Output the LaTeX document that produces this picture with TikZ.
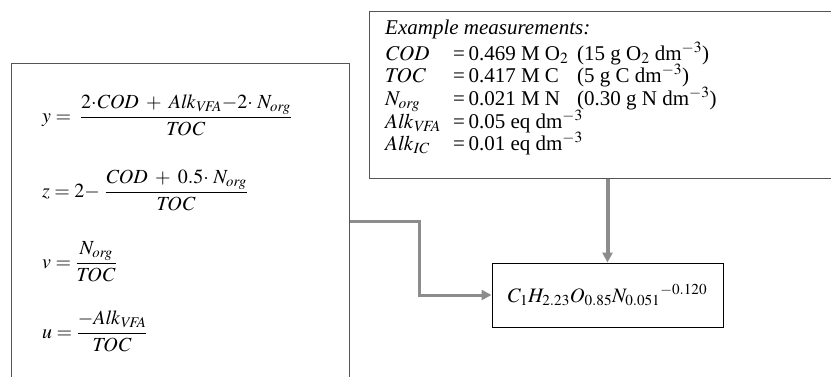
\documentclass[tikz,border=0pt]{standalone}
\usepackage{amsmath}
\usepackage{mathptmx}
\usepackage{fontspec}
\setmainfont{Liberation Serif}
\usetikzlibrary{arrows.meta}
\definecolor{boxgray}{HTML}{555555}
\definecolor{conngray}{HTML}{8C8C8C}
\tikzset{
  bigbox/.style={draw=boxgray, line width=1.4pt, inner sep=0pt},
  fbox/.style={draw=black, line width=1pt, inner sep=0pt, font=\fontsize{20.5}{24}\selectfont},
  eqn/.style={anchor=base west, inner sep=0pt, font=\fontsize{20}{24}\selectfont},
  meas/.style={anchor=base west, inner sep=0pt, font=\fontsize{21}{25}\selectfont},
  conn/.style={draw=conngray, line width=3pt, -{Triangle[length=10pt,width=10pt]}},
}
\newcommand{\colA}[1]{\makebox[68pt][l]{#1}}
\newcommand{\colB}[1]{\makebox[124pt][l]{#1}}
\begin{document}
\begin{tikzpicture}[x=1pt,y=-1pt]
\useasboundingbox (0,0) rectangle (831,376);
% boxes
\node[bigbox, anchor=north west, minimum width=338pt, minimum height=330pt] (leftbox) at (11,63) {};
\node[bigbox, anchor=north west, minimum width=480pt, minimum height=167pt] (rightbox) at (369,11) {};
\node[fbox, minimum width=231pt, minimum height=64pt] (formula) at (607.5,295) {$C_1H_{2.23}O_{0.85}{N_{0.051}}^{-0.120}$};
% equations
\node[eqn] (eqy) at (42,122) {$y = \;\dfrac{2{\cdot}\mathit{COD} \;+\; \mathit{Alk}_{\mathit{VFA}}{-}2{\cdot}\;N_{\mathit{org}}}{\mathit{TOC}}$};
\node[eqn] (eqz) at (42,197) {$z = 2{-}\;\dfrac{\mathit{COD} \;+\; 0.5{\cdot}\;N_{\mathit{org}}}{\mathit{TOC}}$};
\node[eqn] (eqv) at (42,268) {$v = \dfrac{N_{\mathit{org}}}{\mathit{TOC}}$};
\node[eqn] (equ) at (42,338) {$u = \dfrac{-\mathit{Alk}_{\mathit{VFA}}}{\mathit{TOC}}$};
% measurements
\node[meas] (m0) at (385,34) {\textit{Example measurements:}};
\node[meas] (m1) at (385,60) {\colA{$\mathit{COD}$}\colB{=\,0.469 M O$_2$}(15 g O$_2$ dm$^{-3}$)};
\node[meas] (m2) at (385,82.5) {\colA{$\mathit{TOC}$}\colB{=\,0.417 M C}(5 g C dm$^{-3}$)};
\node[meas] (m3) at (385,105) {\colA{$N_{\mathit{org}}$}\colB{=\,0.021 M N}(0.30 g N dm$^{-3}$)};
\node[meas] (m4) at (385,128) {\colA{$\mathit{Alk}_{\mathit{VFA}}$}=\,0.05 eq dm$^{-3}$};
\node[meas] (m5) at (385,150) {\colA{$\mathit{Alk}_{\mathit{IC}}$}=\,0.01 eq dm$^{-3}$};
% connectors
\coordinate (bend) at (419,221);
\draw[conn] (leftbox.north east |- bend) -- (bend) |- (formula.west);
\draw[conn, line width=4pt] (rightbox.south -| formula.north) -- (formula.north);
\end{tikzpicture}
\end{document}
